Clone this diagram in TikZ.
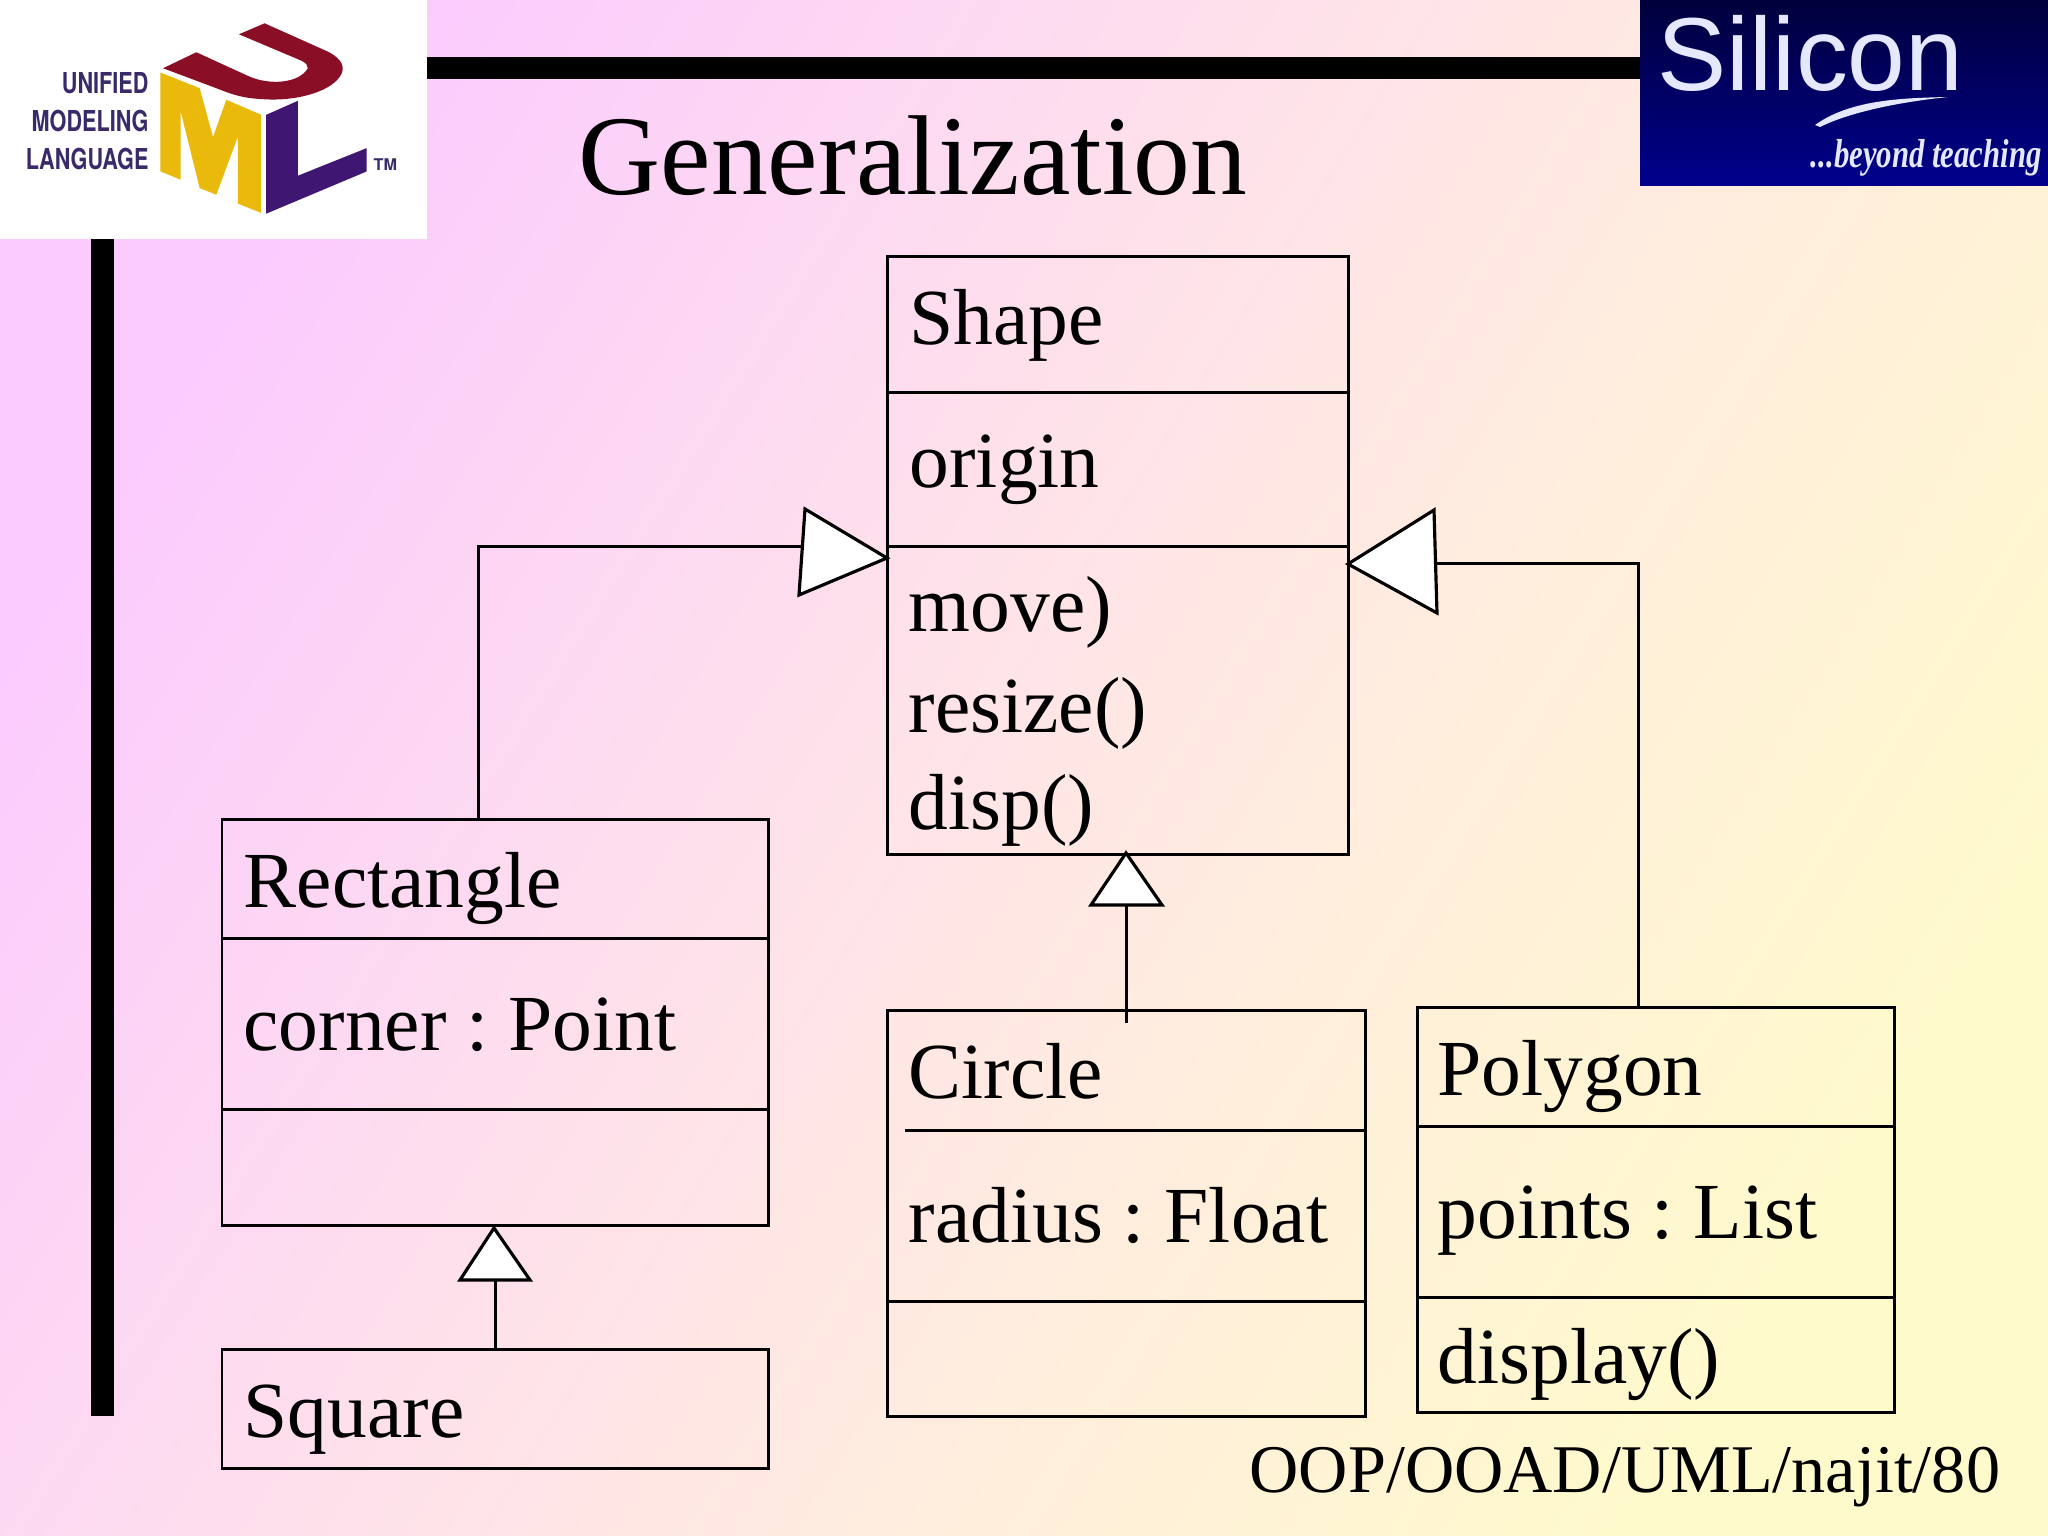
\documentclass[tikz,border=0pt]{standalone}
\usepackage{fontspec}
\setmainfont{Liberation Serif}
\setsansfont{TeX Gyre Heros}
\newfontfamily\siliconfont{Liberation Sans}
\usepackage{tikz}
\frenchspacing
\definecolor{bgPink}{HTML}{FBCBFE}
\definecolor{bgMid}{HTML}{FFE6E6}
\definecolor{bgYellow}{HTML}{FFFACC}
\definecolor{umlRed}{HTML}{8A0E25}
\definecolor{umlGold}{HTML}{E9B90C}
\definecolor{umlPurple}{HTML}{3F1672}
\definecolor{umlText}{HTML}{3B2A6A}
\definecolor{navyTop}{HTML}{00003C}
\definecolor{navyBottom}{HTML}{00008C}
\definecolor{siliconText}{HTML}{E6E8FF}
\tikzset{
	classbox/.style={draw=black, line width=0.85pt, anchor=north west, outer sep=0pt, inner sep=0pt},
	classtext/.style={anchor=base west, inner sep=0pt, font=\fontsize{22.6}{26}\selectfont},
	divider/.style={black, line width=0.85pt},
	conn/.style={black, line width=0.85pt},
	genhead/.style={draw=black, fill=white, line width=0.9pt, line join=miter},
	logotext/.style={anchor=base east, inner sep=0pt, text=umlText, xscale=0.75, font=\sffamily\bfseries\fontsize{8.2}{9}\selectfont}
}

\begin{document}
\begin{tikzpicture}[x=0.01cm, y=-0.01cm]
	% 1. background and frame
	\shade[bottom color=bgYellow, top color=bgPink, middle color=bgMid, shading angle=58] (0,0) rectangle (2048,1536);
	\fill[black] (427,57) rectangle (1640,79);
	\fill[black] (91,239) rectangle (114,1416);
	\node[anchor=base west, inner sep=0pt, font=\fontsize{32.3}{36}\selectfont] (title) at (578,194) {Generalization};
	\node[anchor=base west, inner sep=0pt, font=\fontsize{19.4}{22}\selectfont] (footer) at (1249,1492) {OOP/OOAD/UML/najit/80};

	% 2. uml logo
	\fill[white] (0,0) rectangle (427,239);
	\begin{scope}[x=0.003333cm, y=-0.003333cm]
		\fill[umlRed] (490,205) -- (590,157) -- (745,228) .. controls (810,258) and (900,250) .. (925,205) .. controls (925,195) and (920,190) .. (905,182) -- (718,103) -- (795,70) -- (985,155) .. controls (1030,178) and (1040,205) .. (1020,232) .. controls (985,280) and (880,305) .. (790,298) .. controls (730,295) and (700,285) .. (650,265) -- cycle;
		\fill[umlGold] (482,218) -- (600,265) -- (640,412) -- (680,300) -- (785,345) -- (785,640) -- (715,612) -- (715,410) -- (650,585) -- (600,565) -- (543,335) -- (543,540) -- (482,515) -- cycle;
		\fill[umlPurple] (800,345) -- (895,303) -- (895,528) -- (1102,445) -- (1102,515) -- (800,642) -- cycle;
	\end{scope}
	\node[logotext] (unified) at (149,93) {UNIFIED};
	\node[logotext] (modeling) at (149,131) {MODELING};
	\node[logotext] (language) at (149,169) {LANGUAGE};
	\node[anchor=base west, inner sep=0pt, text=umlText, font=\sffamily\bfseries\fontsize{4.6}{5}\selectfont] (tm) at (373,170) {TM};

	% 3. silicon logo
	\shade[top color=navyTop, bottom color=navyBottom] (1640,0) rectangle (2048,185);
	\node[anchor=base west, inner sep=0pt, text=siliconText, font=\siliconfont\fontsize{29.5}{32}\selectfont] (silicon) at (1657,90) {Silicon};
	\fill[siliconText] (1815,125) .. controls (1850,100) and (1900,98) .. (1948,97) .. controls (1900,102) and (1850,112) .. (1820,127) -- cycle;
	\node[anchor=base east, inner sep=0pt, xscale=0.76, text=siliconText, font=\bfseries\itshape\fontsize{11.5}{13}\selectfont] (beyond) at (2042,167) {...beyond teaching};

	% 4. class boxes
	\node[classbox, minimum width=4.61cm, minimum height=5.98cm] (shapeBox) at (887,256) {};
	\draw[divider] (shapeBox.west |- 0,392) -- (shapeBox.east |- 0,392);
	\draw[divider] (shapeBox.west |- 0,546) -- (shapeBox.east |- 0,546);
	\node[classtext] (shapeName) at (909,344) {Shape};
	\node[classtext] (shapeAttr) at (909,487) {origin};
	\node[classtext] (shapeMove) at (908,631) {move)};
	\node[classtext] (shapeResize) at (908,732) {resize()};
	\node[classtext] (shapeDisp) at (908,829) {disp()};

	\node[classbox, minimum width=5.46cm, minimum height=4.06cm] (rectangleBox) at (222,819) {};
	\draw[divider] (rectangleBox.west |- 0,938) -- (rectangleBox.east |- 0,938);
	\draw[divider] (rectangleBox.west |- 0,1109) -- (rectangleBox.east |- 0,1109);
	\node[classtext] (rectangleName) at (243,907) {Rectangle};
	\node[classtext] (rectangleAttr) at (243,1050) {corner : Point};

	\node[classbox, minimum width=5.46cm, minimum height=1.19cm] (squareBox) at (222,1349) {};
	\node[classtext] (squareName) at (243,1437) {Square};

	\node[classbox, minimum width=4.78cm, minimum height=4.06cm] (circleBox) at (887,1010) {};
	\draw[divider] (905,1130) -- (circleBox.east |- 0,1130);
	\draw[divider] (circleBox.west |- 0,1301) -- (circleBox.east |- 0,1301);
	\node[classtext] (circleName) at (908,1098) {Circle};
	\node[classtext] (circleAttr) at (908,1242) {radius : Float};

	\node[classbox, minimum width=4.77cm, minimum height=4.05cm] (polygonBox) at (1417,1007) {};
	\draw[divider] (polygonBox.west |- 0,1126) -- (polygonBox.east |- 0,1126);
	\draw[divider] (polygonBox.west |- 0,1297) -- (polygonBox.east |- 0,1297);
	\node[classtext] (polygonName) at (1437,1095) {Polygon};
	\node[classtext] (polygonAttr) at (1437,1238) {points : List};
	\node[classtext] (polygonOps) at (1437,1383) {display()};

	% 5. generalization connectors
	\coordinate (leftElbow) at (478,546);
	\coordinate (leftEnd) at (802,546);
	\coordinate (rightElbow) at (1638,563);
	\coordinate (rightEnd) at (1435,563);
	\coordinate (circleTail) at (1126,1023);
	\coordinate (circleEnd) at (1126,905);
	\coordinate (squareEnd) at (495,1280);
	\draw[conn] (rectangleBox.north -| leftElbow) -- (leftElbow) -- (leftEnd);
	\draw[conn] (polygonBox.north -| rightElbow) -- (rightElbow) -- (rightEnd);
	\draw[conn] (circleTail) -- (circleEnd);
	\draw[conn] (squareBox.north -| squareEnd) -- (squareEnd);

	% 6. triangle heads
	\draw[genhead] (805,509) -- (799,595) -- (887,558) -- cycle;
	\draw[genhead] (1434,510) -- (1437,613) -- (1348,564) -- cycle;
	\draw[genhead] (1126,853) -- (1091,905) -- (1162,905) -- cycle;
	\draw[genhead] (494,1228) -- (460,1280) -- (530,1280) -- cycle;
\end{tikzpicture}
\end{document}
